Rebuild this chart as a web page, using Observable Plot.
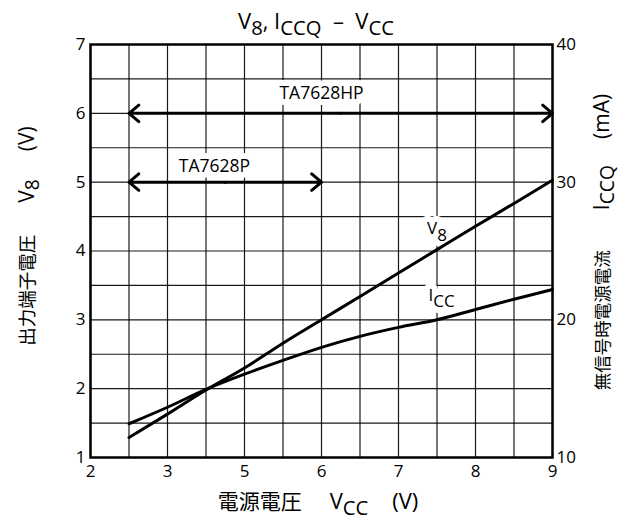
<!DOCTYPE html>
<html><head><meta charset="utf-8">
<script src="https://cdn.jsdelivr.net/npm/d3@7"></script>
<script src="https://cdn.jsdelivr.net/npm/@observablehq/plot@0.6"></script>
<style>
body{margin:0;background:#fff;}
#wrap{position:relative;width:632px;height:524px;font-family:"Open Sans","Noto Sans CJK JP",sans-serif;color:#000;}
.lbl{position:absolute;white-space:nowrap;line-height:1;}
.s{position:relative;top:0.28em;font-size:0.92em;}
.jp{font-family:"Noto Sans CJK JP",sans-serif;}
.g{display:inline-block;}
</style></head><body>
<div id="wrap">
  <div id="chart"></div>
  <div class="lbl" style="left:316px;top:20px;transform:translate(-50%,-50%);font-size:22px">V<span class="s">8</span>, I<span class="s">CCQ</span>&nbsp; –&nbsp; V<span class="s">CC</span></div>
  <div class="lbl" style="left:318px;top:500px;transform:translate(-50%,-50%);font-size:22px"><span class="jp" style="font-size:21px">電源電圧</span><span class="g" style="width:28px"></span>V<span class="s">CC</span><span class="g" style="width:24px"></span>(V)</div>
  <div class="lbl" style="left:26px;top:236px;transform:translate(-50%,-50%) rotate(-90deg);font-size:21px"><span class="jp" style="font-size:18.5px">出力端子電圧</span><span class="g" style="width:32px"></span>V<span class="s">8</span><span class="g" style="width:28px"></span>(V)</div>
  <div class="lbl" style="left:601px;top:242px;transform:translate(-50%,-50%) rotate(-90deg);font-size:21px"><span class="jp" style="font-size:17.5px">無信号時電源電流</span><span class="g" style="width:40px"></span>I<span class="s">CCQ</span><span class="g" style="width:26px"></span>(mA)</div>
</div>
<script>
// x-axis tick labels as printed (note: the printed scale has no "4")
const xTickLabels = [2, 3, 5, 6, 7, 8, 9];
// left axis (V8, volts) ticks and right axis (ICCQ, mA) ticks
const leftTicks = [1, 2, 3, 4, 5, 6, 7];
const rightTicks = [10, 20, 30, 40];

// curve samples (Vcc in printed-axis units)
const vcc  = [2.5, 3, 4, 5, 5.5, 6, 6.5, 7, 7.5, 8, 8.5, 9];
const v8   = [1.29, 1.63, 1.98, 2.30, 2.66, 3.00, 3.34, 3.68, 4.02, 4.36, 4.69, 5.03];
const iccq = [12.45, 13.65, 14.95, 16.05, 17.05, 18.0, 18.8, 19.45, 20.0, 20.75, 21.5, 22.2];

// operating ranges
const rangeNames = ["TA7628HP", "TA7628P"];
const rangeFrom  = [2.5, 2.5];
const rangeTo    = [9, 6];
const rangeLevel = [6, 5];
const rangeLabelX = [6, 4.22];
const rangeLabelY = [6.29, 5.23];

// curve labels
const curveNames  = ["V8", "ICC"];
const curveLabelX = [7.5, 7.56];
const curveLabelY = [4.33, 3.36];

// printed axis is piecewise: map printed value -> uniform position
const idx = xTickLabels.map((_, i) => i);
const xPos = d3.scaleLinear(xTickLabels, idx);
const xInv = d3.scaleLinear(idx, xTickLabels);
// right axis (mA) onto the left axis (V)
const mA2y = d3.scaleLinear([10, 40], [1, 7]);
const y2mA = mA2y.invert;

const v8Data = vcc.map((x, i) => ({x: xPos(x), y: v8[i]}));
const iccData = vcc.map((x, i) => ({x: xPos(x), y: mA2y(iccq[i])}));
const arrows = [];
rangeNames.forEach((n, i) => {
  const a = xPos(rangeFrom[i]), b = xPos(rangeTo[i]), m = (a + b) / 2;
  arrows.push({x1: m, x2: b, y: rangeLevel[i]});
  arrows.push({x1: m, x2: a, y: rangeLevel[i]});
});
const rangeLabels = rangeNames.map((n, i) => ({x: xPos(rangeLabelX[i]), y: rangeLabelY[i], t: n}));
const curveLabels = curveNames.map((n, i) => ({x: xPos(curveLabelX[i]), y: curveLabelY[i], t: n}));

const gridXs = d3.range(0, 6.001, 0.5);
const gridYs = d3.range(1, 7.001, 0.5);

const plot = Plot.plot({
  width: 632, height: 524,
  marginTop: 44, marginBottom: 67, marginLeft: 90, marginRight: 80,
  style: {fontFamily: "'Open Sans', sans-serif", fontSize: "17px", color: "#000", background: "transparent"},
  x: {domain: [0, 6]},
  y: {domain: [1, 7]},
  marks: [
    Plot.gridX({ticks: gridXs, stroke: "#000", strokeOpacity: 0.9, strokeWidth: 1.2}),
    Plot.gridY({ticks: gridYs, stroke: "#000", strokeOpacity: 0.9, strokeWidth: 1.2}),
    Plot.axisY({ticks: leftTicks, tickFormat: d => String(d), tickSize: 0, tickPadding: 5, label: null, fontSize: 17}),
    Plot.axisY({anchor: "right", ticks: rightTicks.map(mA2y), tickFormat: d => String(Math.round(y2mA(d))), tickSize: 0, tickPadding: 4, label: null, fontSize: 17}),
    Plot.axisX({ticks: idx, tickFormat: d => String(Math.round(xInv(d))), tickSize: 0, tickPadding: 7, label: null, fontSize: 17}),
    Plot.text(rangeLabels, {x: "x", y: "y", text: "t", fontSize: 17.5, fill: "#000", stroke: "white", strokeWidth: 12}),
    // halo layer for curve labels, then the labels themselves
    Plot.text(curveLabels, {x: "x", y: "y", text: "t", fontSize: 17, fill: "white", stroke: "white", strokeWidth: 12}),
    Plot.text(curveLabels, {x: "x", y: "y", text: "t", fontSize: 17, fill: "#000"}),
    Plot.arrow(arrows, {x1: "x1", x2: "x2", y1: "y", y2: "y", stroke: "#000", strokeWidth: 3, headLength: 6.4, headAngle: 80}),
    Plot.line(v8Data, {x: "x", y: "y", stroke: "#000", strokeWidth: 3, curve: "monotone-x"}),
    Plot.line(iccData, {x: "x", y: "y", stroke: "#000", strokeWidth: 3, curve: "monotone-x"}),
    Plot.frame({stroke: "#000", strokeWidth: 2.5})
  ]
});
document.getElementById("chart").append(plot);

// subscripts in curve labels
plot.querySelectorAll("text").forEach(t => {
  const s = t.textContent;
  if (!curveNames.includes(s)) return;
  const main = s.slice(0, 1), sub = s.slice(1);
  while (t.firstChild) t.removeChild(t.firstChild);
  const a = document.createElementNS("http://www.w3.org/2000/svg", "tspan");
  a.textContent = main;
  const b = document.createElementNS("http://www.w3.org/2000/svg", "tspan");
  b.textContent = sub;
  b.setAttribute("dy", "0.4em");
  t.append(a, b);
});
</script>
</body></html>
